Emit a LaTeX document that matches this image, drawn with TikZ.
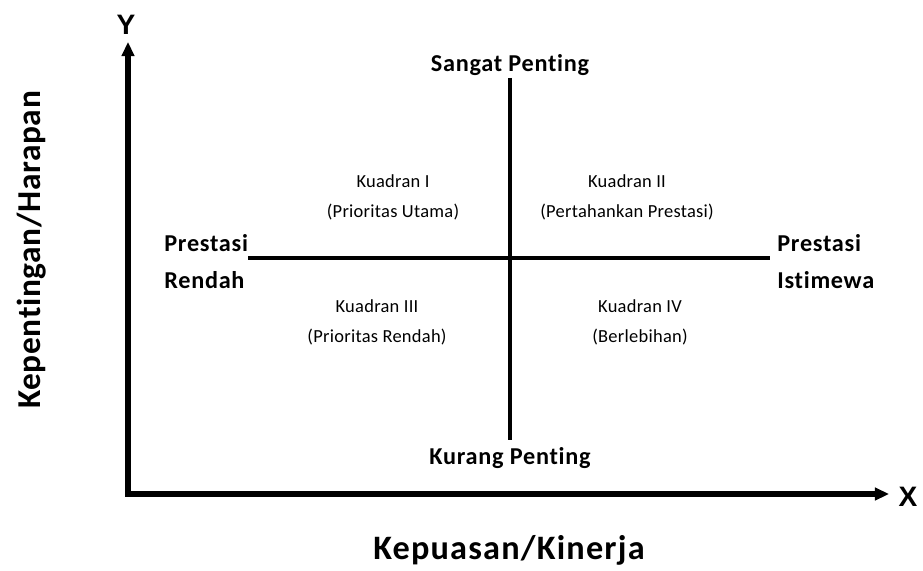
\documentclass[tikz,border=0pt]{standalone}
\usepackage{fontspec}
\setmainfont{Carlito}[Ligatures=NoCommon]
\newfontfamily\axisfont{Liberation Sans}
\usetikzlibrary{arrows.meta}
\tikzset{
  quadtext/.style={align=center,font=\addfontfeature{LetterSpace=1.5}\fontsize{10.5}{17}\selectfont,inner sep=0pt},
  boldlabel/.style={font=\bfseries\addfontfeature{LetterSpace=3}\fontsize{13.8}{21}\selectfont,inner sep=0pt},
  axistitle/.style={font=\bfseries\addfontfeature{LetterSpace=3.5}\fontsize{19.5}{22}\selectfont,inner sep=0pt},
  vtitle/.style={font=\bfseries\addfontfeature{LetterSpace=2}\fontsize{19}{22}\selectfont,inner sep=0pt},
  axisletter/.style={font=\axisfont\bfseries\fontsize{16}{18}\selectfont,inner sep=0pt}
}
\begin{document}
\begin{tikzpicture}[x=0.02cm,y=-0.02cm,line join=round,>={Triangle[length=8pt,width=7pt]}]
\useasboundingbox (0,0) rectangle (923,571);
% axes
    \coordinate (O) at (128,494);
    \coordinate (Ytip) at (128,42);
    \coordinate (Xtip) at (889,494);
\draw[->,line width=3pt] ([yshift=-1.5pt]O)--(Ytip);
\draw[->,line width=3pt] ([xshift=-1.5pt]O)--(Xtip);
    \node[axisletter] (Ylab) at (126,25) {Y};
    \node[axisletter] (Xlab) at (908,497) {X};
% quadrant lines
    \coordinate (Top) at (510,78);
    \coordinate (Bot) at (510,440);
    \coordinate (Left) at (248,258);
    \coordinate (Right) at (770,258);
\draw[line width=2.3pt] (Top)--(Bot);
\draw[line width=2.3pt] (Left)--(Right);
% labels
    \node[boldlabel] (sp) at (510,65) {Sangat Penting};
    \node[boldlabel] (kp) at (510,458) {Kurang Penting};
    \node[boldlabel,anchor=west,align=left] (pr) at (164,262) {Prestasi\\Rendah};
    \node[boldlabel,anchor=west,align=left] (pi) at (777,262) {Prestasi\\Istimewa};
    \node[quadtext] (q1) at (393,197) {Kuadran I\\(Prioritas Utama)};
    \node[quadtext] (q2) at (627,197) {Kuadran II\\(Pertahankan Prestasi)};
    \node[quadtext] (q3) at (377,322) {Kuadran III\\(Prioritas Rendah)};
    \node[quadtext] (q4) at (640,322) {Kuadran IV\\(Berlebihan)};
    \node[vtitle,rotate=90] (ky) at (32,250) {Kepentingan/Harapan};
    \node[axistitle] (kx) at (509,550) {Kepuasan/Kinerja};
\end{tikzpicture}
\end{document}
